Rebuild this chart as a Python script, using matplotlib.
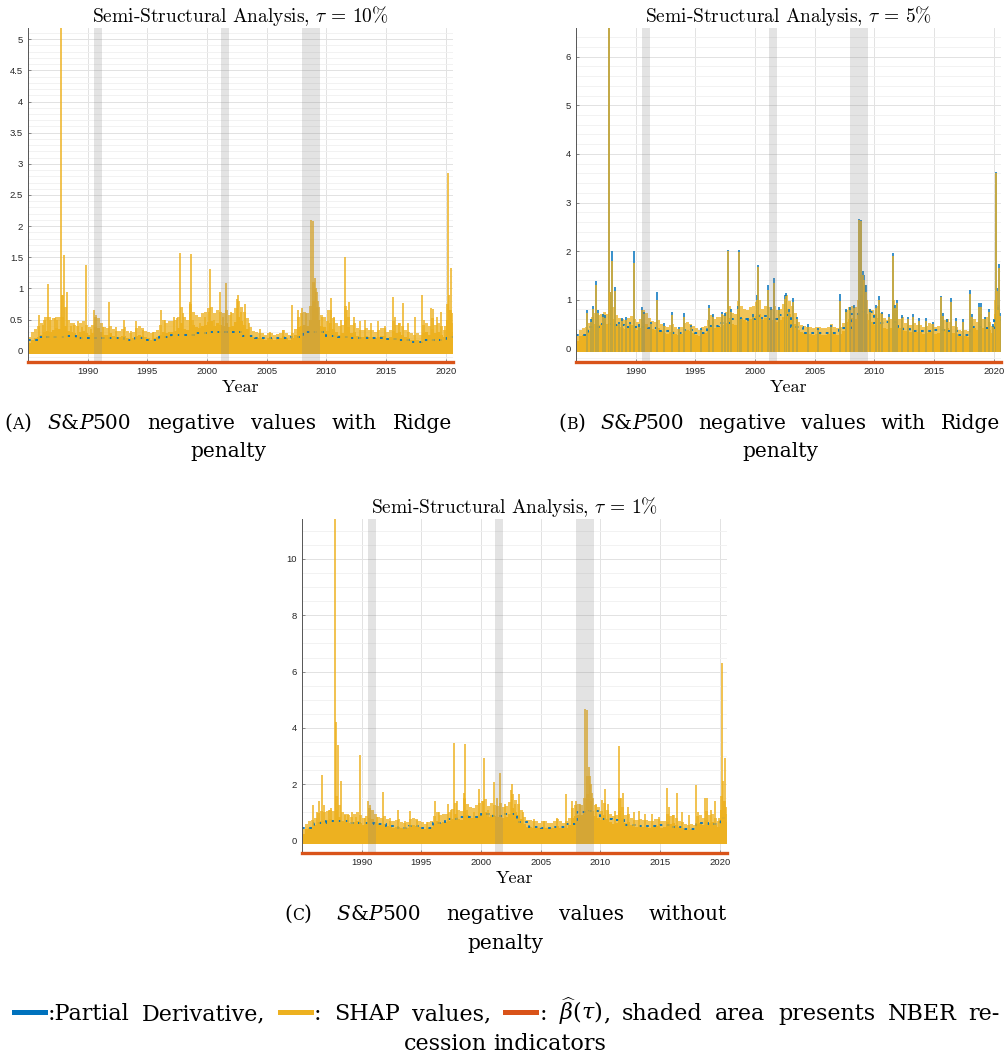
import numpy as np
import matplotlib
matplotlib.use('Agg')
import matplotlib.pyplot as plt
from matplotlib.patches import Rectangle
from matplotlib.ticker import MultipleLocator, FormatStrFormatter

BLUE = '#0072BD'
ORANGE = '#EDB120'
RED = '#D95319'
SERIF = 'DejaVu Serif'
SANS = 'Liberation Sans'

# quarter start dates for the dense body of the SHAP series, yearly steps for the derivative
quarters = np.arange(1985, 2020.75, 0.25)
years = np.arange(1985, 2021)

# NBER recessions (start, end)
recessions = [(1990.54, 1991.21), (2001.17, 2001.87), (2007.92, 2009.46)]

# solid core of the SHAP values per quarter
shap_core_a = [0.12, 0.18, 0.20, 0.22, 0.26, 0.30, 0.32, 0.30, 0.34, 0.36, 0.35, 0.55,
               0.40, 0.32, 0.30, 0.28, 0.26, 0.30, 0.32, 0.28, 0.25, 0.28, 0.38, 0.36,
               0.30, 0.26, 0.25, 0.28, 0.24, 0.22, 0.22, 0.24, 0.24, 0.20, 0.18, 0.20,
               0.24, 0.26, 0.24, 0.22, 0.20, 0.18, 0.20, 0.22, 0.26, 0.30, 0.28, 0.30,
               0.30, 0.32, 0.36, 0.45, 0.35, 0.33, 0.50, 0.42, 0.38, 0.36, 0.40, 0.42,
               0.46, 0.48, 0.40, 0.45, 0.42, 0.40, 0.44, 0.38, 0.40, 0.46, 0.55, 0.48,
               0.42, 0.35, 0.26, 0.22, 0.22, 0.20, 0.20, 0.18, 0.20, 0.20, 0.18, 0.19,
               0.20, 0.24, 0.20, 0.18, 0.20, 0.25, 0.38, 0.40, 0.42, 0.40, 0.50, 0.80,
               0.70, 0.50, 0.40, 0.38, 0.32, 0.45, 0.35, 0.30, 0.26, 0.28, 0.50, 0.38,
               0.28, 0.30, 0.24, 0.22, 0.22, 0.24, 0.22, 0.22, 0.20, 0.22, 0.24, 0.24,
               0.20, 0.22, 0.32, 0.28, 0.30, 0.26, 0.22, 0.20, 0.18, 0.17, 0.18, 0.16,
               0.28, 0.30, 0.26, 0.35, 0.28, 0.30, 0.26, 0.22, 0.50, 0.45, 0.30]
shap_core_b = [0.15, 0.25, 0.28, 0.30, 0.35, 0.45, 0.50, 0.48, 0.50, 0.55, 0.50, 0.80,
               0.60, 0.48, 0.45, 0.42, 0.40, 0.45, 0.48, 0.42, 0.38, 0.42, 0.55, 0.50,
               0.45, 0.40, 0.38, 0.42, 0.36, 0.32, 0.30, 0.34, 0.35, 0.30, 0.28, 0.30,
               0.36, 0.38, 0.36, 0.32, 0.28, 0.26, 0.30, 0.32, 0.40, 0.48, 0.42, 0.45,
               0.45, 0.48, 0.52, 0.62, 0.50, 0.48, 0.70, 0.62, 0.58, 0.55, 0.60, 0.62,
               0.66, 0.70, 0.58, 0.62, 0.60, 0.58, 0.62, 0.55, 0.58, 0.65, 0.80, 0.70,
               0.62, 0.50, 0.38, 0.33, 0.32, 0.30, 0.30, 0.28, 0.30, 0.30, 0.28, 0.28,
               0.30, 0.34, 0.30, 0.28, 0.30, 0.36, 0.55, 0.60, 0.62, 0.60, 0.72, 1.10,
               0.95, 0.70, 0.58, 0.55, 0.48, 0.62, 0.50, 0.42, 0.40, 0.42, 0.72, 0.55,
               0.42, 0.45, 0.36, 0.33, 0.34, 0.36, 0.34, 0.33, 0.30, 0.32, 0.36, 0.35,
               0.30, 0.32, 0.45, 0.40, 0.42, 0.38, 0.32, 0.30, 0.26, 0.25, 0.26, 0.24,
               0.40, 0.42, 0.38, 0.50, 0.42, 0.45, 0.38, 0.32, 0.70, 0.65, 0.45]
shap_core_c = [0.25, 0.40, 0.45, 0.48, 0.55, 0.65, 0.70, 0.68, 0.72, 0.75, 0.72, 1.10,
               0.85, 0.70, 0.65, 0.62, 0.58, 0.65, 0.68, 0.62, 0.55, 0.60, 0.80, 0.75,
               0.65, 0.58, 0.55, 0.60, 0.52, 0.48, 0.46, 0.50, 0.50, 0.44, 0.42, 0.45,
               0.52, 0.55, 0.52, 0.48, 0.44, 0.40, 0.45, 0.48, 0.58, 0.68, 0.62, 0.66,
               0.66, 0.70, 0.78, 0.95, 0.75, 0.72, 1.05, 0.90, 0.82, 0.80, 0.88, 0.92,
               0.98, 1.02, 0.85, 0.92, 0.88, 0.85, 0.92, 0.82, 0.85, 0.95, 1.15, 1.00,
               0.90, 0.75, 0.58, 0.50, 0.50, 0.46, 0.46, 0.44, 0.46, 0.46, 0.44, 0.44,
               0.46, 0.52, 0.46, 0.44, 0.46, 0.55, 0.80, 0.88, 0.92, 0.90, 1.05, 1.65,
               1.40, 1.05, 0.88, 0.82, 0.72, 0.92, 0.75, 0.65, 0.60, 0.62, 1.05, 0.82,
               0.62, 0.66, 0.55, 0.50, 0.50, 0.54, 0.50, 0.50, 0.46, 0.48, 0.54, 0.52,
               0.46, 0.48, 0.66, 0.60, 0.62, 0.56, 0.48, 0.45, 0.40, 0.38, 0.40, 0.36,
               0.60, 0.62, 0.56, 0.72, 0.62, 0.66, 0.56, 0.48, 1.10, 0.95, 0.65]

# ragged upper reach of the daily SHAP values per quarter
shap_upper_a = [0.22, 0.30, 0.35, 0.40, 0.45, 0.50, 0.55, 0.50, 0.52, 0.55, 0.55, 0.90,
                0.70, 0.50, 0.45, 0.42, 0.40, 0.45, 0.48, 0.42, 0.38, 0.42, 0.55, 0.52,
                0.45, 0.38, 0.36, 0.40, 0.35, 0.32, 0.32, 0.35, 0.38, 0.32, 0.28, 0.30,
                0.36, 0.40, 0.36, 0.32, 0.30, 0.28, 0.30, 0.34, 0.42, 0.50, 0.45, 0.48,
                0.48, 0.50, 0.55, 0.70, 0.55, 0.50, 0.75, 0.62, 0.58, 0.55, 0.60, 0.62,
                0.68, 0.70, 0.60, 0.65, 0.62, 0.60, 0.65, 0.58, 0.60, 0.68, 0.80, 0.70,
                0.62, 0.52, 0.38, 0.32, 0.30, 0.28, 0.28, 0.26, 0.28, 0.28, 0.26, 0.27,
                0.28, 0.34, 0.28, 0.26, 0.28, 0.35, 0.55, 0.60, 0.62, 0.60, 0.72, 1.10,
                0.95, 0.70, 0.58, 0.55, 0.48, 0.65, 0.52, 0.45, 0.40, 0.42, 0.72, 0.55,
                0.42, 0.45, 0.36, 0.33, 0.34, 0.36, 0.34, 0.34, 0.30, 0.33, 0.36, 0.36,
                0.30, 0.33, 0.48, 0.42, 0.45, 0.40, 0.34, 0.30, 0.28, 0.26, 0.28, 0.25,
                0.42, 0.45, 0.40, 0.52, 0.42, 0.45, 0.40, 0.34, 0.75, 0.65, 0.45]
shap_upper_b = [0.25, 0.38, 0.42, 0.45, 0.52, 0.65, 0.72, 0.68, 0.70, 0.75, 0.70, 1.10,
                0.85, 0.68, 0.62, 0.60, 0.58, 0.62, 0.66, 0.60, 0.55, 0.60, 0.78, 0.72,
                0.62, 0.56, 0.54, 0.58, 0.50, 0.46, 0.44, 0.48, 0.50, 0.44, 0.40, 0.44,
                0.52, 0.55, 0.50, 0.46, 0.42, 0.38, 0.44, 0.46, 0.58, 0.68, 0.60, 0.64,
                0.64, 0.68, 0.75, 0.88, 0.72, 0.70, 0.98, 0.88, 0.82, 0.78, 0.85, 0.88,
                0.95, 1.00, 0.82, 0.88, 0.85, 0.82, 0.88, 0.78, 0.82, 0.92, 1.10, 0.98,
                0.88, 0.72, 0.54, 0.48, 0.46, 0.44, 0.44, 0.42, 0.44, 0.44, 0.42, 0.42,
                0.44, 0.50, 0.44, 0.42, 0.44, 0.52, 0.78, 0.85, 0.88, 0.86, 1.00, 1.50,
                1.30, 1.00, 0.82, 0.78, 0.70, 0.88, 0.72, 0.62, 0.58, 0.60, 1.00, 0.78,
                0.60, 0.64, 0.52, 0.48, 0.48, 0.52, 0.48, 0.48, 0.44, 0.46, 0.52, 0.50,
                0.44, 0.46, 0.64, 0.58, 0.60, 0.54, 0.46, 0.44, 0.38, 0.36, 0.38, 0.35,
                0.58, 0.60, 0.54, 0.70, 0.60, 0.64, 0.54, 0.46, 1.00, 0.90, 0.64]
shap_upper_c = [0.40, 0.60, 0.68, 0.72, 0.82, 0.98, 1.05, 1.00, 1.05, 1.10, 1.05, 1.60,
                1.25, 1.02, 0.95, 0.90, 0.85, 0.95, 1.00, 0.90, 0.80, 0.88, 1.15, 1.08,
                0.95, 0.85, 0.80, 0.88, 0.76, 0.70, 0.68, 0.74, 0.76, 0.66, 0.62, 0.66,
                0.78, 0.82, 0.76, 0.70, 0.66, 0.60, 0.66, 0.70, 0.86, 1.00, 0.92, 0.96,
                0.96, 1.02, 1.12, 1.35, 1.10, 1.05, 1.50, 1.30, 1.20, 1.15, 1.28, 1.32,
                1.42, 1.48, 1.22, 1.32, 1.28, 1.22, 1.32, 1.18, 1.22, 1.38, 1.65, 1.45,
                1.30, 1.08, 0.84, 0.74, 0.72, 0.68, 0.68, 0.64, 0.68, 0.68, 0.64, 0.64,
                0.68, 0.76, 0.68, 0.64, 0.68, 0.80, 1.15, 1.25, 1.30, 1.28, 1.50, 2.30,
                2.00, 1.50, 1.25, 1.18, 1.05, 1.32, 1.08, 0.95, 0.88, 0.90, 1.50, 1.18,
                0.90, 0.96, 0.80, 0.74, 0.74, 0.78, 0.74, 0.74, 0.68, 0.70, 0.78, 0.76,
                0.68, 0.70, 0.96, 0.88, 0.90, 0.82, 0.70, 0.66, 0.58, 0.56, 0.58, 0.54,
                0.88, 0.90, 0.82, 1.05, 0.90, 0.96, 0.82, 0.70, 1.60, 1.40, 0.95]

# individual daily peaks
spike_dates = [1985.95, 1986.25, 1986.45, 1986.70, 1986.85, 1987.30, 1987.45, 1987.79, 1987.86,
               1988.04, 1988.30, 1988.60, 1988.85, 1989.20, 1989.55, 1989.83, 1990.25, 1990.56,
               1990.72, 1991.30, 1991.80, 1992.40, 1993.00, 1993.60, 1994.05, 1994.60, 1995.50,
               1996.15, 1996.50, 1997.20, 1997.50, 1997.77, 1997.95, 1998.55, 1998.63, 1998.85,
               1999.40, 1999.85, 2000.14, 2000.25, 2000.60, 2001.09, 2001.35, 2001.62, 2002.00,
               2002.50, 2002.60, 2002.85, 2003.20, 2003.55, 2004.40, 2005.30, 2006.40, 2007.12,
               2007.60, 2007.95, 2008.30, 2008.72, 2008.86, 2009.00, 2009.12, 2009.30, 2009.60,
               2010.17, 2010.36, 2010.60, 2011.25, 2011.59, 2011.70, 2011.87, 2012.30, 2012.80,
               2013.20, 2013.70, 2014.30, 2014.90, 2015.56, 2015.70, 2016.10, 2016.45, 2016.80,
               2017.40, 2018.04, 2018.20, 2018.75, 2018.90, 2019.30, 2019.60, 2019.90, 2020.17,
               2020.25, 2020.35, 2020.43, 2020.52]
spike_a = [0.58, 0.42, 0.55, 1.07, 0.55, 0.52, 0.50, 5.20, 0.90,
           1.54, 0.95, 0.40, 0.45, 0.47, 0.38, 1.38, 0.35, 0.65,
           0.58, 0.38, 0.79, 0.38, 0.50, 0.32, 0.47, 0.33, 0.30,
           0.65, 0.50, 0.55, 0.52, 1.57, 0.60, 0.78, 1.55, 0.50,
           0.45, 0.55, 0.62, 1.31, 0.50, 0.94, 0.55, 1.09, 0.62,
           0.83, 0.90, 0.62, 0.75, 0.45, 0.35, 0.30, 0.33, 0.74,
           0.65, 0.68, 0.60, 2.10, 2.09, 1.17, 1.00, 0.80, 0.55,
           0.65, 0.84, 0.55, 0.50, 1.51, 0.65, 0.78, 0.55, 0.48,
           0.50, 0.45, 0.48, 0.40, 0.86, 0.55, 0.45, 0.77, 0.45,
           0.55, 0.89, 0.50, 0.69, 0.67, 0.55, 0.63, 0.40, 2.85,
           0.90, 0.65, 1.33, 0.60]
spike_pd_b = [0.79, 0.60, 0.88, 1.39, 0.78, 0.70, 0.68, 6.70, 1.15,
              2.00, 1.27, 0.55, 0.62, 0.65, 0.55, 2.00, 0.50, 0.85,
              0.75, 0.55, 1.17, 0.52, 0.75, 0.45, 0.72, 0.48, 0.42,
              0.90, 0.70, 0.75, 0.72, 2.03, 0.80, 0.87, 2.02, 0.65,
              0.62, 0.70, 1.10, 1.71, 0.65, 1.31, 0.85, 1.45, 0.85,
              1.10, 1.14, 0.80, 1.04, 0.65, 0.50, 0.42, 0.48, 1.12,
              0.80, 0.85, 0.90, 2.67, 2.65, 1.60, 1.50, 1.30, 0.80,
              0.90, 1.07, 0.75, 0.70, 1.97, 0.90, 1.00, 0.68, 0.65,
              0.70, 0.62, 0.62, 0.55, 1.08, 0.72, 0.60, 1.04, 0.62,
              0.60, 1.20, 0.70, 0.93, 0.93, 0.65, 0.80, 0.50, 3.62,
              1.25, 0.85, 1.73, 0.72]
spike_b = [0.72, 0.55, 0.80, 1.30, 0.72, 0.64, 0.62, 6.70, 1.15,
           1.80, 1.18, 0.50, 0.56, 0.58, 0.50, 1.75, 0.45, 0.78,
           0.70, 0.50, 1.00, 0.47, 0.68, 0.40, 0.65, 0.43, 0.38,
           0.84, 0.64, 0.70, 0.66, 2.00, 0.74, 0.80, 1.98, 0.60,
           0.57, 0.64, 1.00, 1.68, 0.60, 1.20, 0.78, 1.35, 0.78,
           1.02, 1.08, 0.74, 0.95, 0.60, 0.45, 0.38, 0.44, 0.98,
           0.74, 0.78, 0.84, 2.65, 2.62, 1.50, 1.40, 1.15, 0.74,
           0.84, 1.00, 0.70, 0.64, 1.90, 0.84, 0.93, 0.62, 0.60,
           0.64, 0.56, 0.57, 0.50, 1.05, 0.66, 0.55, 0.95, 0.57,
           0.55, 1.12, 0.64, 0.86, 0.86, 0.60, 0.74, 0.45, 3.60,
           1.18, 0.78, 1.65, 0.66]
spike_c = [1.28, 1.00, 1.40, 2.34, 1.25, 1.10, 1.15, 11.50, 4.20,
           3.40, 2.10, 0.90, 0.95, 1.00, 0.85, 3.05, 0.80, 1.42,
           1.25, 0.85, 1.73, 0.80, 1.10, 0.70, 1.04, 0.72, 0.65,
           1.42, 1.00, 1.30, 1.10, 3.46, 1.40, 1.70, 3.43, 1.10,
           1.00, 1.83, 1.40, 2.93, 1.10, 2.08, 1.50, 2.40, 1.30,
           1.80, 2.00, 1.30, 1.66, 1.00, 0.75, 0.70, 0.80, 1.66,
           1.40, 1.40, 1.30, 4.67, 4.63, 2.60, 2.30, 1.70, 1.30,
           1.45, 1.85, 1.30, 1.05, 3.37, 1.50, 1.70, 1.20, 1.00,
           1.05, 0.95, 0.95, 0.85, 1.87, 1.20, 0.90, 1.69, 1.00,
           0.90, 1.98, 1.00, 1.50, 1.50, 1.10, 1.40, 0.80, 6.30,
           2.10, 1.40, 2.93, 1.20]

# partial derivative, yearly level
pd_a = [0.17, 0.22, 0.22, 0.23, 0.21, 0.21, 0.20, 0.20, 0.18, 0.20, 0.17, 0.22,
        0.25, 0.26, 0.28, 0.30, 0.30, 0.30, 0.24, 0.20, 0.20, 0.20, 0.22, 0.30,
        0.30, 0.24, 0.22, 0.21, 0.21, 0.21, 0.19, 0.18, 0.14, 0.18, 0.18, 0.22]
pd_b = [0.28, 0.45, 0.50, 0.48, 0.45, 0.45, 0.42, 0.36, 0.32, 0.37, 0.32, 0.46,
        0.52, 0.60, 0.60, 0.66, 0.60, 0.68, 0.45, 0.32, 0.31, 0.32, 0.42, 0.70,
        0.75, 0.52, 0.55, 0.40, 0.36, 0.36, 0.38, 0.36, 0.28, 0.45, 0.42, 0.58]
pd_c = [0.45, 0.62, 0.70, 0.68, 0.62, 0.62, 0.58, 0.52, 0.46, 0.52, 0.46, 0.62,
        0.75, 0.85, 0.85, 0.95, 0.88, 0.95, 0.65, 0.48, 0.46, 0.48, 0.60, 1.00,
        1.05, 0.75, 0.72, 0.56, 0.52, 0.52, 0.55, 0.50, 0.40, 0.62, 0.58, 0.80]

# lowest SHAP value and the estimated coefficient per quantile
shap_min = {'a': -0.05, 'b': -0.08, 'c': -0.12}
beta_hat = {'a': -0.18, 'b': -0.28, 'c': -0.44}
y_top = {'a': 5.18, 'b': 6.59, 'c': 11.42}
y_major = {'a': 0.5, 'b': 1, 'c': 2}
y_minor = {'a': 0.1, 'b': 0.2, 'c': 0.5}
taus = {'a': '10', 'b': '5', 'c': '1'}

W, H = 1008, 1061
fig = plt.figure(figsize=(W / 100, H / 100), dpi=100)
renderer = fig.canvas.get_renderer()

# axes boxes in pixels: left, top, right, bottom
boxes = {'a': (28, 28, 453, 362), 'b': (576, 28, 1001, 362), 'c': (302, 519, 727, 853)}

cores = {'a': shap_core_a, 'b': shap_core_b, 'c': shap_core_c}
uppers = {'a': shap_upper_a, 'b': shap_upper_b, 'c': shap_upper_c}
spikes = {'a': spike_a, 'b': spike_b, 'c': spike_c}
pds = {'a': pd_a, 'b': pd_b, 'c': pd_c}

q_edges = np.append(quarters, quarters[-1] + 0.25)
y_edges = np.append(years, years[-1] + 1)

for key, (l, t, r, b) in boxes.items():
    ax = fig.add_axes([l / W, 1 - b / H, (r - l) / W, (b - t) / H])
    lo = shap_min[key]
    ax.stairs(cores[key], q_edges, baseline=lo, fill=True, color=ORANGE, lw=0, zorder=2)
    ax.stairs(uppers[key], q_edges, baseline=lo, fill=True, color=ORANGE, alpha=0.75,
              lw=0, zorder=2.2)
    # derivative shows only as flecks along the dense SHAP mass
    ax.stairs(pds[key], y_edges, baseline=None, color=BLUE, lw=1.3, zorder=2.4,
              linestyle=(0, (1.5, 2.5)))
    if key == 'b':
        ax.vlines(spike_dates, lo, spike_pd_b, color=BLUE, lw=1.1, zorder=2.6)
    ax.vlines(spike_dates, lo, spikes[key], color=ORANGE, lw=1.1, zorder=3)
    for s, e in recessions:
        ax.axvspan(s, e, color='0.5', alpha=0.22, lw=0, zorder=4)
    ax.axhline(beta_hat[key], color=RED, lw=2.4, zorder=5, clip_on=False)

    ax.set_xlim(1985, 2020.6)
    ax.set_ylim(beta_hat[key], y_top[key])
    ax.set_xticks([1990, 1995, 2000, 2005, 2010, 2015, 2020])
    ax.yaxis.set_major_locator(MultipleLocator(y_major[key]))
    ax.yaxis.set_minor_locator(MultipleLocator(y_minor[key]))
    ax.yaxis.set_major_formatter(FormatStrFormatter('%g'))
    ax.grid(True, which='major', color='#e2e2e2', lw=0.7)
    ax.grid(True, which='minor', axis='y', color='#f0f0f0', lw=0.6)
    ax.set_axisbelow(True)
    for side in ['top', 'right', 'bottom']:
        ax.spines[side].set_visible(False)
    ax.spines['left'].set_color('#555555')
    ax.spines['left'].set_linewidth(0.7)
    ax.tick_params(which='major', direction='in', length=2.5, width=0.6, color='#777777',
                   labelsize=6.8, labelcolor='#262626', pad=3.5)
    ax.tick_params(which='minor', length=0)
    for lab in ax.get_xticklabels() + ax.get_yticklabels():
        lab.set_fontfamily(SANS)
    ax.set_title(r'Semi-Structural Analysis, $\tau$ = ' + taus[key] + '%', fontfamily='cmr10',
                 math_fontfamily='cm', fontsize=14, pad=4)
    ax.set_xlabel('Year', fontfamily='cmr10', fontsize=13, labelpad=3)


# caption text built from runs so lines can be justified like the typeset page
def tx(s, size, style='normal'):
    return {'text': s, 'size': size, 'style': style}


def bar(color):
    return {'bar': color, 'w': 36}


def run_kw(r):
    return dict(fontsize=r['size'], fontstyle=r['style'], family=SERIF,
                math_fontfamily='dejavuserif')


def word_width(word):
    w = 0
    for r in word:
        if 'bar' in r:
            w += r['w']
        else:
            t = fig.text(0, 0, r['text'], **run_kw(r))
            w += t.get_window_extent(renderer).width
            t.remove()
    return w


def draw_word(word, x, y):
    for r in word:
        if 'bar' in r:
            fig.add_artist(Rectangle((x / W, 1 - (y - 5.5) / H), r['w'] / W, 4.5 / H,
                                     transform=fig.transFigure, color=r['bar'], lw=0))
            x += r['w']
        else:
            t = fig.text(x / W, 1 - y / H, r['text'], va='baseline', ha='left', **run_kw(r))
            x += t.get_window_extent(renderer).width


def justify(words, x0, x1, y):
    widths = [word_width(w) for w in words]
    gap = (x1 - x0 - sum(widths)) / (len(words) - 1)
    x = x0
    for w, ww in zip(words, widths):
        draw_word(w, x, y)
        x += ww + gap


def centered(words, xc, y, size):
    sp = word_width([tx('a a', size)]) - word_width([tx('aa', size)])
    widths = [word_width(w) for w in words]
    total = sum(widths) + sp * (len(words) - 1)
    x = xc - total / 2
    for w, ww in zip(words, widths):
        draw_word(w, x, y)
        x += ww + sp


CAP = 14.5
LEG = 16


def caption_words(letter, rest):
    first = [tx('(', CAP), tx(letter, CAP * 0.78), tx(')', CAP)]
    sp500 = [tx('S', CAP, 'italic'), tx('&', CAP), tx('P', CAP, 'italic'), tx('500', CAP)]
    return [first, sp500] + [[tx(w, CAP)] for w in rest]


justify(caption_words('A', ['negative', 'values', 'with', 'Ridge']), 4, 452, 429)
centered([[tx('penalty', CAP)]], 228, 457, CAP)
justify(caption_words('B', ['negative', 'values', 'with', 'Ridge']), 558, 1000, 429)
centered([[tx('penalty', CAP)]], 780, 457, CAP)
justify(caption_words('C', ['negative', 'values', 'without']), 284, 727, 920)
centered([[tx('penalty', CAP)]], 505, 949, CAP)

legend_words = [
    [bar(BLUE), tx(':Partial', LEG)],
    [tx('Derivative,', LEG)],
    [bar(ORANGE), tx(':', LEG)],
    [tx('SHAP', LEG)],
    [tx('values,', LEG)],
    [bar(RED), tx(':', LEG)],
    [tx(r'$\widehat{\beta}(\tau)$', LEG), tx(',', LEG)],
    [tx('shaded', LEG)], [tx('area', LEG)], [tx('presents', LEG)],
    [tx('NBER', LEG)], [tx('re-', LEG)],
]
justify(legend_words, 12, 1000, 1020)
centered([[tx('cession', LEG)], [tx('indicators', LEG)]], 505, 1050, LEG)

fig.savefig('out.png', dpi=100)
